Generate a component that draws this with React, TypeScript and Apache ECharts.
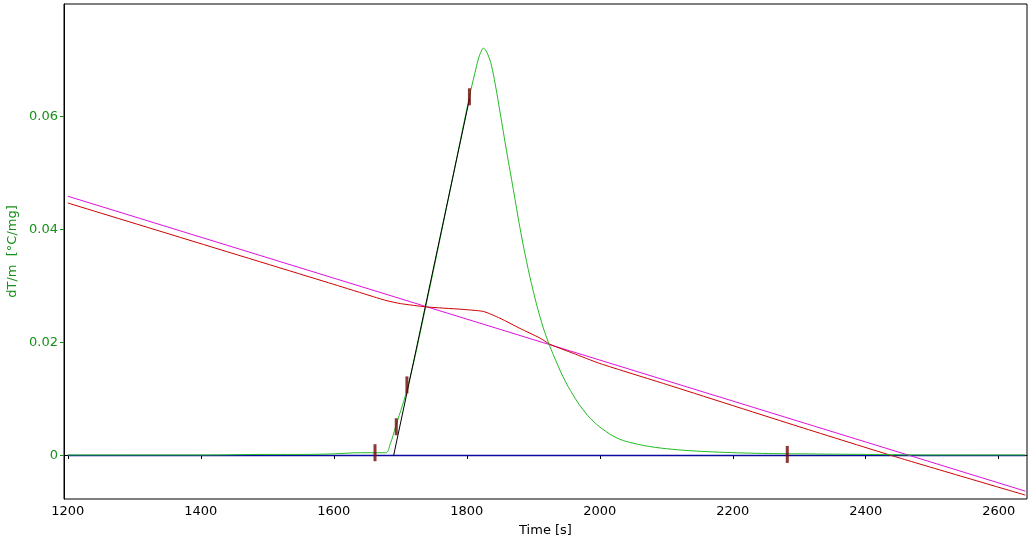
import React, { useEffect, useRef } from "react";
import * as echarts from "echarts";

// DSC curve (green)
const greenT = [1200, 1300, 1400, 1500, 1550, 1600, 1640, 1660, 1678, 1685, 1693, 1712, 1740, 1772, 1804, 1812, 1818, 1822, 1825, 1828, 1832, 1837, 1843, 1850, 1860, 1870, 1880, 1890, 1900, 1910, 1920, 1930, 1945, 1960, 1975, 1990, 2010, 2030, 2050, 2075, 2110, 2160, 2236, 2300, 2400, 2500, 2640];
const greenV = [0.0000, 0.0000, 0.0000, 0.0001, 0.0001, 0.0002, 0.0004, 0.0004, 0.0004, 0.0020, 0.0050, 0.0124, 0.0272, 0.0452, 0.0634, 0.0675, 0.0703, 0.0715, 0.0720, 0.0717, 0.0708, 0.0690, 0.0655, 0.0607, 0.0537, 0.0470, 0.0402, 0.0342, 0.0290, 0.0245, 0.0208, 0.0178, 0.0138, 0.0106, 0.0080, 0.0060, 0.0041, 0.0028, 0.0021, 0.0015, 0.0010, 0.0006, 0.0003, 0.0002, 0.0001, 0.0000, 0.0000];

// red curve
const redT = [1200, 1600, 1660, 1680, 1700, 1740, 1790, 1825, 1850, 1880, 1910, 1925, 1960, 2000, 2100, 2300, 2450, 2640];
const redV = [0.0446, 0.0302, 0.0280, 0.0273, 0.0268, 0.0262, 0.0258, 0.0254, 0.0242, 0.0224, 0.0207, 0.0196, 0.0180, 0.0162, 0.0125, 0.0050, -0.0005, -0.0071];

// magenta line
const magT = [1200, 2640];
const magV = [0.0458, -0.0064];

// blue baseline
const blueT = [1200, 2640];
const blueV = [-0.0001, -0.0001];

// black tangent
const tanT = [1690, 1804];
const tanV = [-0.0001, 0.0630];

// markers
const markT = [1662, 1694, 1710, 1804, 2282];
const markV = [0.0004, 0.0050, 0.0124, 0.0634, 0.0001];

const xTicks = [1200, 1400, 1600, 1800, 2000, 2200, 2400, 2600];
const yTicks = [0, 0.02, 0.04, 0.06];

const pairs = (t: number[], v: number[]) => t.map((x, i) => [x, v[i]]);

export default function App() {
  const ref = useRef<HTMLDivElement>(null);
  useEffect(() => {
    if (!ref.current) return;
    const chart = echarts.init(ref.current, undefined, { renderer: "svg" });
    const font = "DejaVu Sans";
    const lineBase = { type: "line", showSymbol: false, symbol: "none", silent: true };
    chart.setOption({
      animation: false,
      grid: {
        left: 64, top: 4, width: 963, height: 495,
        containLabel: false, outerBoundsMode: "none",
        show: true, borderColor: "#000", borderWidth: 1, backgroundColor: "#fff",
      },
      xAxis: {
        type: "value",
        min: 1194.3,
        max: 2642.5,
        name: "Time [s]",
        nameLocation: "middle",
        nameGap: 24,
        nameTextStyle: { color: "#000", fontFamily: font, fontSize: 13 },
        axisLine: { show: true, lineStyle: { color: "#000" } },
        axisTick: { show: true, inside: false, length: 4, lineStyle: { color: "#000" }, customValues: xTicks },
        axisLabel: { color: "#000", fontFamily: font, fontSize: 13, margin: 5, customValues: xTicks, formatter: (v: number) => String(v) },
        splitLine: { show: false },
      },
      yAxis: {
        type: "value",
        min: -0.00779,
        max: 0.07982,
        name: "dT/m  [°C/mg]",
        nameLocation: "middle",
        nameGap: 40,
        nameRotate: 90,
        nameTextStyle: { color: "#179017", fontFamily: font, fontSize: 13 },
        axisLine: { show: true, lineStyle: { color: "#000" } },
        axisTick: { show: true, inside: false, length: 4, lineStyle: { color: "#179017" }, customValues: yTicks },
        axisLabel: {
          color: "#179017",
          fontFamily: font,
          fontSize: 13,
          margin: 6,
          customValues: yTicks,
          formatter: (v: number) => (v === 0 ? "0" : String(Math.round(v * 100) / 100)),
        },
        splitLine: { show: false },
      },
      series: [
        { ...lineBase, name: "baseline", data: pairs(blueT, blueV), lineStyle: { color: "#0a0aa0", width: 1.4 }, z: 2 },
        { ...lineBase, name: "magenta", data: pairs(magT, magV), lineStyle: { color: "#dd11dd", width: 1 }, z: 3 },
        { ...lineBase, name: "red", data: pairs(redT, redV), smooth: 0.2, lineStyle: { color: "#cc0000", width: 1 }, z: 4 },
        { ...lineBase, name: "dsc", data: pairs(greenT, greenV), smooth: 0.4, lineStyle: { color: "#22bb22", width: 1 }, z: 5 },
        { ...lineBase, name: "tangent", data: pairs(tanT, tanV), lineStyle: { color: "#000", width: 1 }, z: 6 },
        {
          type: "scatter",
          name: "markers",
          data: pairs(markT, markV),
          symbol: "rect",
          symbolSize: [3, 17],
          itemStyle: { color: "#6e0606" },
          silent: true,
          z: 7,
        },
      ],
    });
    return () => chart.dispose();
  }, []);
  return <div ref={ref} style={{ position: "fixed", left: 0, top: 0, width: 1032, height: 544 }} />;
}
